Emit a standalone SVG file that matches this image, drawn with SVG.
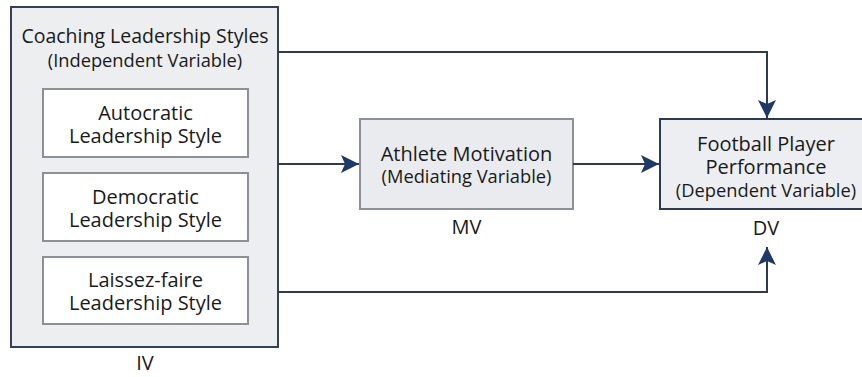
<svg xmlns="http://www.w3.org/2000/svg" width="862" height="377" viewBox="0 0 862 377">
<style>
text{font-family:"Open Sans","Noto Sans","Liberation Sans",sans-serif;fill:#1a1a1a;text-anchor:middle;font-weight:500}
.main{font-size:20px}
.title{font-size:19.5px}
.sub{font-size:18.3px}
.outer{fill:#eceef0;stroke:#34405a;stroke-width:2}
.inner{fill:#ffffff;stroke:#8c9097;stroke-width:2}
.mv{fill:#e9ebee;stroke:#8c9097;stroke-width:2}
.dv{fill:#eceef1;stroke:#2c3a52;stroke-width:2}
.conn{fill:none;stroke:#2e3a4e;stroke-width:2}
</style>
<defs>
<marker id="ah" viewBox="0 0 18 18" refX="18" refY="9" markerWidth="18" markerHeight="18" markerUnits="userSpaceOnUse" orient="auto">
<path d="M0,0 L18,9 L0,18 L4,9 Z" fill="#1f3a66"/>
</marker>
</defs>
<rect width="862" height="377" fill="#ffffff"/>
<g id="iv">
<rect class="outer" x="11" y="7" width="267" height="340"/>
<text class="title" x="145" y="43">Coaching Leadership Styles</text>
<text class="sub" x="145" y="67">(Independent Variable)</text>
<text class="main" x="145" y="370">IV</text>
</g>
<g id="autocratic">
<rect class="inner" x="43" y="89" width="205" height="68"/>
<text class="main" x="145.5" y="120">Autocratic</text>
<text class="main" x="145.5" y="143">Leadership Style</text>
</g>
<g id="democratic">
<rect class="inner" x="43" y="173" width="205" height="68"/>
<text class="main" x="145.5" y="204">Democratic</text>
<text class="main" x="145.5" y="227">Leadership Style</text>
</g>
<g id="laissezfaire">
<rect class="inner" x="43" y="257" width="205" height="67"/>
<text class="main" x="145.5" y="287">Laissez-faire</text>
<text class="main" x="145.5" y="310">Leadership Style</text>
</g>
<g id="mv">
<rect class="mv" x="360" y="119" width="213" height="90"/>
<text class="main" x="466.5" y="161">Athlete Motivation</text>
<text class="sub" x="466.5" y="183">(Mediating Variable)</text>
<text class="main" x="466.5" y="234">MV</text>
</g>
<g id="dv">
<rect class="dv" x="660" y="119" width="212" height="90"/>
<text class="main" x="766" y="151">Football Player</text>
<text class="main" x="766" y="174">Performance</text>
<text class="sub" x="766" y="197">(Dependent Variable)</text>
<text class="main" x="766" y="235">DV</text>
</g>
<g id="connectors">
<path class="conn" d="M278,52 H767 V118" marker-end="url(#ah)"/>
<path class="conn" d="M278,164 H359" marker-end="url(#ah)"/>
<path class="conn" d="M573,164 H659" marker-end="url(#ah)"/>
<path class="conn" d="M278,292 H767 V247" marker-end="url(#ah)"/>
</g>
</svg>
